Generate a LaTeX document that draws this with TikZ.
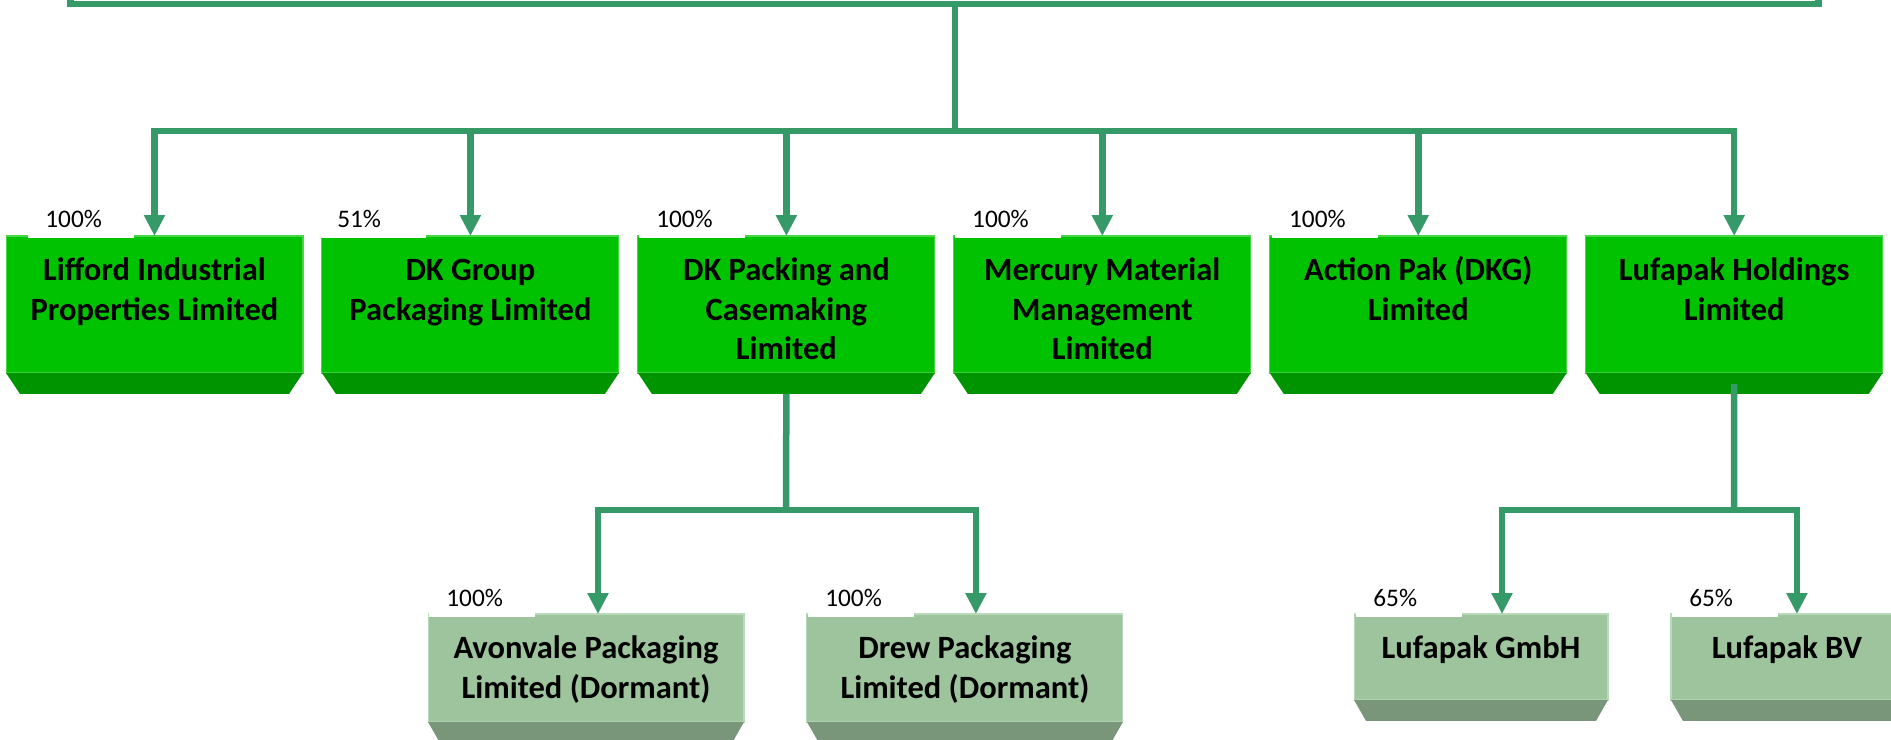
\documentclass[tikz,border=0pt]{standalone}
\usepackage{fontspec}
\setmainfont{Carlito}
\usepackage{tikz}
\usetikzlibrary{arrows.meta, positioning}
\definecolor{linkgreen}{RGB}{54,154,104}
\definecolor{facegreen}{RGB}{0,194,0}
\definecolor{foldgreen}{RGB}{0,148,0}
\definecolor{rimgreen}{RGB}{70,214,70}
\definecolor{facesage}{RGB}{157,196,157}
\definecolor{foldsage}{RGB}{122,150,122}
\definecolor{rimsage}{RGB}{185,218,185}
\newcommand{\boxtext}[3]{\parbox[c][#2][t]{#1}{\centering\rule{0pt}{0.89cm}#3}}

\begin{document}
\begin{tikzpicture}[x=0.02cm, y=-0.02cm,
  company/.style={rectangle, inner sep=0, outer sep=0, fill=facegreen, draw=rimgreen, line width=0.6pt, font=\fontsize{18.5}{22.6}\selectfont\bfseries},
  dormant/.style={company, fill=facesage, draw=rimsage},
  pct/.style={anchor=base west, fill=white, inner xsep=0.34cm, inner ysep=0, text width=1.44cm, text height=0.4cm, text depth=0.22cm, font=\fontsize{14.4}{17}\selectfont},
  link/.style={color=linkgreen, line width=0.13cm},
  feed/.style={link, arrows={-Triangle[length=0.42cm, width=0.4cm]}}]
  \useasboundingbox (0,0) rectangle (1891,740);
  \clip (0,0) rectangle (1891,740);

  % subsidiaries
  \node[company] (lif) at (154.5,304.5) {\boxtext{5.94cm}{2.74cm}{Lifford Industrial\\Properties Limited}};
  \node[company, right=0.38cm of lif] (dkg) {\boxtext{5.94cm}{2.74cm}{DK Group\\Packaging Limited}};
  \node[company, right=0.38cm of dkg] (dkp) {\boxtext{5.94cm}{2.74cm}{DK Packing and\\Casemaking\\Limited}};
  \node[company, right=0.38cm of dkp] (mmm) {\boxtext{5.94cm}{2.74cm}{Mercury Material\\Management\\Limited}};
  \node[company, right=0.38cm of mmm] (apk) {\boxtext{5.94cm}{2.74cm}{Action Pak (DKG)\\Limited}};
  \node[company, right=0.38cm of apk] (luh) {\boxtext{5.94cm}{2.74cm}{Lufapak Holdings\\Limited}};

  \node[dormant] (avo) at (586,668) {\boxtext{6.32cm}{2.16cm}{Avonvale Packaging\\Limited (Dormant)}};
  \node[dormant, right=1.26cm of avo] (drw) {\boxtext{6.32cm}{2.16cm}{Drew Packaging\\Limited (Dormant)}};
  \node[dormant] (gmb) at (1481,657) {\boxtext{5.08cm}{1.72cm}{Lufapak GmbH}};
  \node[dormant, right=1.26cm of gmb] (lbv) {\boxtext{4.64cm}{1.72cm}{Lufapak BV}};

  % bevels
  \foreach \n in {lif,dkg,dkp,mmm,apk,luh}
    \fill[foldgreen] (\n.south west) -- ++(14,21) -- ([shift={(-14,21)}]\n.south east) -- (\n.south east) -- cycle;
  \foreach \n in {avo,drw,gmb,lbv}
    \fill[foldsage] (\n.south west) -- ++(12,21) -- ([shift={(-12,21)}]\n.south east) -- (\n.south east) -- cycle;

  % shares
  \node[pct] (plif) at ([shift={(22,-9)}]lif.north west) {100\%};
  \node[pct] (pdkg) at ([shift={(-2,-9)}]dkg.north west) {51\%};
  \node[pct] (pdkp) at ([shift={(1,-9)}]dkp.north west) {100\%};
  \node[pct] (pmmm) at ([shift={(1,-9)}]mmm.north west) {100\%};
  \node[pct] (papk) at ([shift={(2,-9)}]apk.north west) {100\%};
  \node[pct] (pavo) at ([shift={(1,-8)}]avo.north west) {100\%};
  \node[pct] (pdrw) at ([shift={(1,-8)}]drw.north west) {100\%};
  \node[pct] (pgmb) at ([shift={(2,-8)}]gmb.north west) {65\%};
  \node[pct] (plbv) at ([shift={(1,-8)}]lbv.north west) {65\%};

  % connectors
  \coordinate (topl) at (70.5,-10);
  \coordinate (topr) at (1818.5,-10);
  \coordinate (top) at (955,4);
  \coordinate (hub) at (955,131);
  \draw[link] (topl) |- (top) -| (topr);
  \draw[link] (top) -- (hub);
  \foreach \n in {lif,dkg,dkp,mmm,apk,luh}
    \draw[feed] (hub) -| (\n.north);

  \coordinate (dkhub) at (786,510);
  \draw[link] ([yshift=-0.42cm]dkp.south) -- (dkhub);
  \draw[feed] (dkhub) -| ([xshift=0.24cm]avo.north);
  \draw[feed] (dkhub) -| ([xshift=0.22cm]drw.north);

  \coordinate (luhub) at (1734,510);
  \draw[link] ([yshift=-0.22cm]luh.south) -- (luhub);
  \draw[feed] (luhub) -| ([xshift=0.42cm]gmb.north);
  \draw[feed] (luhub) -| ([xshift=0.2cm]lbv.north);
\end{tikzpicture}
\end{document}
